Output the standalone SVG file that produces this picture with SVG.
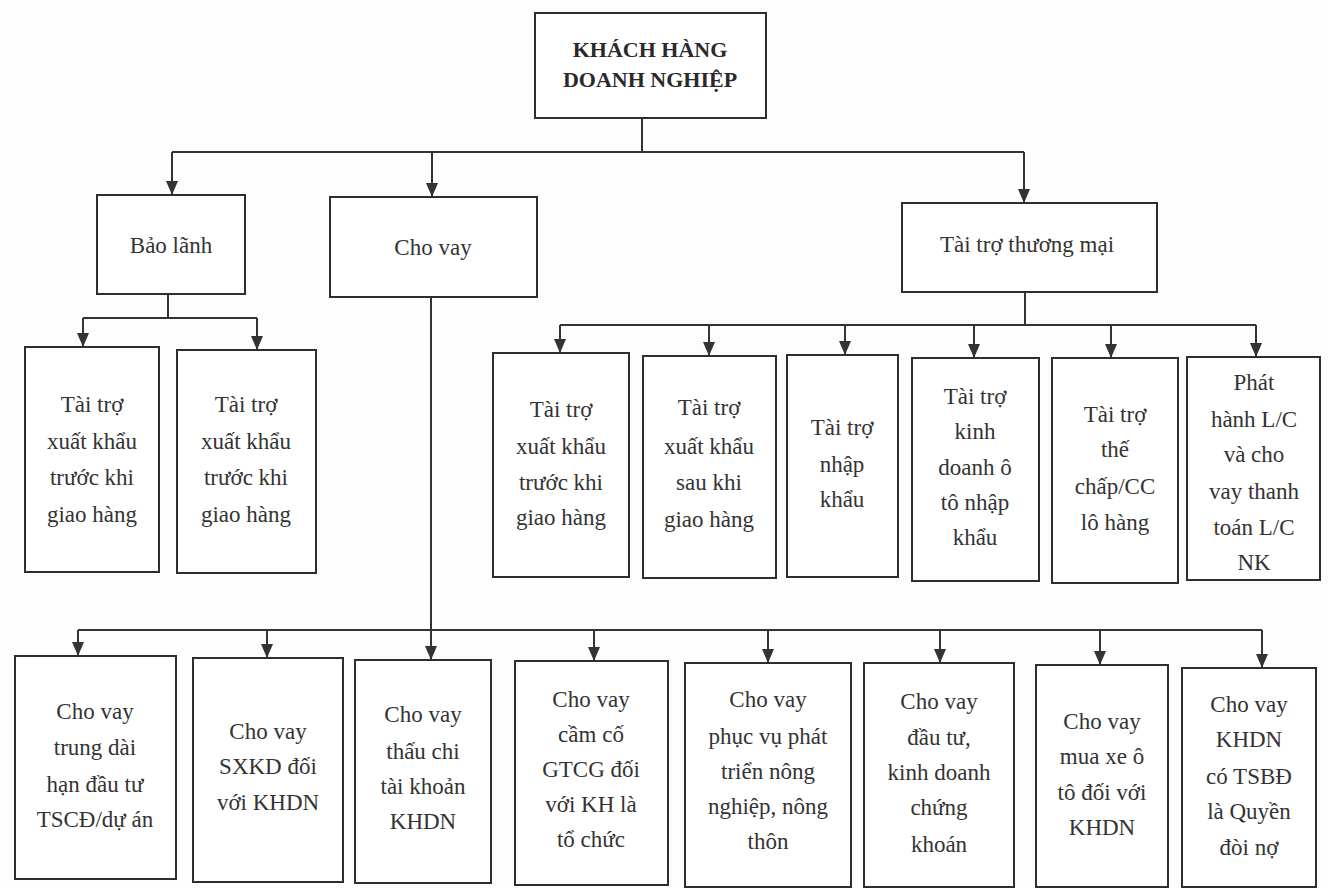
<svg xmlns="http://www.w3.org/2000/svg" width="1328" height="889" viewBox="0 0 1328 889">
<style>
.bg{fill:#fdfdfd}
.box{fill:#ffffff;stroke:#2e2e2e;stroke-width:2}
.t{font-family:"Liberation Serif","Times New Roman",serif;font-size:23px;fill:#333;text-anchor:middle}
.tb{font-family:"Liberation Serif","Times New Roman",serif;font-size:22px;font-weight:bold;fill:#2a2a2a;text-anchor:middle}
.c{fill:none;stroke:#333;stroke-width:2}
</style>
<defs>
<marker id="ah" viewBox="0 0 14 12" refX="14" refY="6" markerWidth="14" markerHeight="12" markerUnits="userSpaceOnUse" orient="auto">
<path d="M0,0 L14,6 L0,12 z" fill="#333"/>
</marker>
</defs>
<rect class="bg" x="0" y="0" width="1328" height="889"/>

<g id="connectors">
<path class="c" d="M642,118 V152 M172,152 H1024"/>
<path class="c" d="M172,152 V195" marker-end="url(#ah)"/>
<path class="c" d="M432,152 V197" marker-end="url(#ah)"/>
<path class="c" d="M1024,152 V203" marker-end="url(#ah)"/>

<path class="c" d="M168,294 V318 M83,318 H257"/>
<path class="c" d="M83,318 V347" marker-end="url(#ah)"/>
<path class="c" d="M257,318 V350" marker-end="url(#ah)"/>

<path class="c" d="M1025,292 V325 M560,325 H1256"/>
<path class="c" d="M560,325 V353" marker-end="url(#ah)"/>
<path class="c" d="M709,325 V356" marker-end="url(#ah)"/>
<path class="c" d="M845,325 V355" marker-end="url(#ah)"/>
<path class="c" d="M974,325 V358" marker-end="url(#ah)"/>
<path class="c" d="M1111,325 V358" marker-end="url(#ah)"/>
<path class="c" d="M1256,325 V357" marker-end="url(#ah)"/>

<path class="c" d="M78,630 H1262"/>
<path class="c" d="M431,297 V660" marker-end="url(#ah)"/>
<path class="c" d="M78,630 V656" marker-end="url(#ah)"/>
<path class="c" d="M267,630 V658" marker-end="url(#ah)"/>
<path class="c" d="M594,630 V661" marker-end="url(#ah)"/>
<path class="c" d="M768,630 V663" marker-end="url(#ah)"/>
<path class="c" d="M940,630 V663" marker-end="url(#ah)"/>
<path class="c" d="M1100,630 V665" marker-end="url(#ah)"/>
<path class="c" d="M1262,630 V668" marker-end="url(#ah)"/>
</g>

<g id="root">
<rect class="box" x="535" y="13" width="231" height="105"/>
<text class="tb" x="650" y="57">KHÁCH HÀNG</text>
<text class="tb" x="650" y="87">DOANH NGHIỆP</text>
</g>

<g id="bao-lanh">
<rect class="box" x="97" y="195" width="148" height="99"/>
<text class="t" x="171" y="253">Bảo lãnh</text>
</g>
<g id="cho-vay">
<rect class="box" x="330" y="197" width="207" height="100"/>
<text class="t" x="433" y="255">Cho vay</text>
</g>
<g id="tai-tro-thuong-mai">
<rect class="box" x="902" y="203" width="255" height="89"/>
<text class="t" x="1027" y="252">Tài trợ thương mại</text>
</g>

<g id="bl1">
<rect class="box" x="25" y="347" width="134" height="225"/>
<text class="t" x="92" y="412">Tài trợ</text>
<text class="t" x="92" y="449">xuất khẩu</text>
<text class="t" x="92" y="485">trước khi</text>
<text class="t" x="92" y="522">giao hàng</text>
</g>
<g id="bl2">
<rect class="box" x="177" y="350" width="139" height="223"/>
<text class="t" x="246" y="412">Tài trợ</text>
<text class="t" x="246" y="449">xuất khẩu</text>
<text class="t" x="246" y="485">trước khi</text>
<text class="t" x="246" y="522">giao hàng</text>
</g>

<g id="tm1">
<rect class="box" x="493" y="353" width="136" height="224"/>
<text class="t" x="561" y="417">Tài trợ</text>
<text class="t" x="561" y="454">xuất khẩu</text>
<text class="t" x="561" y="490">trước khi</text>
<text class="t" x="561" y="525">giao hàng</text>
</g>
<g id="tm2">
<rect class="box" x="643" y="356" width="133" height="222"/>
<text class="t" x="709" y="415">Tài trợ</text>
<text class="t" x="709" y="454">xuất khẩu</text>
<text class="t" x="709" y="490">sau khi</text>
<text class="t" x="709" y="527">giao hàng</text>
</g>
<g id="tm3">
<rect class="box" x="787" y="355" width="111" height="222"/>
<text class="t" x="842" y="435">Tài trợ</text>
<text class="t" x="842" y="472">nhập</text>
<text class="t" x="842" y="507">khẩu</text>
</g>
<g id="tm4">
<rect class="box" x="912" y="358" width="127" height="223"/>
<text class="t" x="975" y="404">Tài trợ</text>
<text class="t" x="975" y="439">kinh</text>
<text class="t" x="975" y="475">doanh ô</text>
<text class="t" x="975" y="510">tô nhập</text>
<text class="t" x="975" y="545">khẩu</text>
</g>
<g id="tm5">
<rect class="box" x="1052" y="358" width="126" height="225"/>
<text class="t" x="1115" y="422">Tài trợ</text>
<text class="t" x="1115" y="457">thế</text>
<text class="t" x="1115" y="494">chấp/CC</text>
<text class="t" x="1115" y="530">lô hàng</text>
</g>
<g id="tm6">
<rect class="box" x="1187" y="357" width="133" height="223"/>
<text class="t" x="1254" y="390">Phát</text>
<text class="t" x="1254" y="427">hành L/C</text>
<text class="t" x="1254" y="462">và cho</text>
<text class="t" x="1254" y="499">vay thanh</text>
<text class="t" x="1254" y="535">toán L/C</text>
<text class="t" x="1254" y="570">NK</text>
</g>

<g id="cv1">
<rect class="box" x="15" y="656" width="161" height="223"/>
<text class="t" x="95" y="719">Cho vay</text>
<text class="t" x="95" y="755">trung dài</text>
<text class="t" x="95" y="792">hạn đầu tư</text>
<text class="t" x="95" y="827">TSCĐ/dự án</text>
</g>
<g id="cv2">
<rect class="box" x="193" y="658" width="150" height="224"/>
<text class="t" x="268" y="739">Cho vay</text>
<text class="t" x="268" y="774">SXKD đối</text>
<text class="t" x="268" y="810">với KHDN</text>
</g>
<g id="cv3">
<rect class="box" x="355" y="660" width="136" height="223"/>
<text class="t" x="423" y="722">Cho vay</text>
<text class="t" x="423" y="759">thấu chi</text>
<text class="t" x="423" y="794">tài khoản</text>
<text class="t" x="423" y="829">KHDN</text>
</g>
<g id="cv4">
<rect class="box" x="515" y="661" width="153" height="224"/>
<text class="t" x="591" y="707">Cho vay</text>
<text class="t" x="591" y="742">cầm cố</text>
<text class="t" x="591" y="777">GTCG đối</text>
<text class="t" x="591" y="812">với KH là</text>
<text class="t" x="591" y="847">tổ chức</text>
</g>
<g id="cv5">
<rect class="box" x="685" y="663" width="166" height="224"/>
<text class="t" x="768" y="707">Cho vay</text>
<text class="t" x="768" y="744">phục vụ phát</text>
<text class="t" x="768" y="779">triển nông</text>
<text class="t" x="768" y="814">nghiệp, nông</text>
<text class="t" x="768" y="849">thôn</text>
</g>
<g id="cv6">
<rect class="box" x="864" y="663" width="150" height="224"/>
<text class="t" x="939" y="709">Cho vay</text>
<text class="t" x="939" y="745">đầu tư,</text>
<text class="t" x="939" y="780">kinh doanh</text>
<text class="t" x="939" y="815">chứng</text>
<text class="t" x="939" y="852">khoán</text>
</g>
<g id="cv7">
<rect class="box" x="1036" y="665" width="132" height="222"/>
<text class="t" x="1102" y="729">Cho vay</text>
<text class="t" x="1102" y="764">mua xe ô</text>
<text class="t" x="1102" y="800">tô đối với</text>
<text class="t" x="1102" y="835">KHDN</text>
</g>
<g id="cv8">
<rect class="box" x="1182" y="668" width="134" height="219"/>
<text class="t" x="1249" y="712">Cho vay</text>
<text class="t" x="1249" y="747">KHDN</text>
<text class="t" x="1249" y="784">có TSBĐ</text>
<text class="t" x="1249" y="819">là Quyền</text>
<text class="t" x="1249" y="855">đòi nợ</text>
</g>
</svg>
